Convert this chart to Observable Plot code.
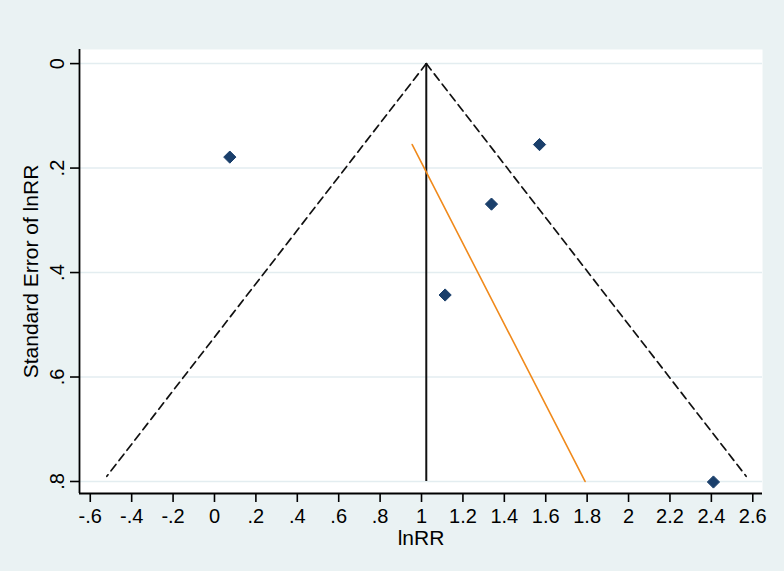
<!DOCTYPE html>
<html>
<head>
<meta charset="utf-8">
<script src="https://cdn.jsdelivr.net/npm/d3@7"></script>
<script src="https://cdn.jsdelivr.net/npm/@observablehq/plot@0.6"></script>
<style>
  html, body { margin: 0; padding: 0; background: #eaf2f3; }
  #chart svg { display: block; }
</style>
</head>
<body>
<div id="chart"></div>
<script>
// ---- data ----
const studyLnRR = [0.074, 1.570, 1.338, 1.114, 2.410];
const studySE   = [0.179, 0.155, 0.269, 0.443, 0.801];

const pooledLnRR = 1.023;                       // vertical line
const funnelLeftX  = [1.023, -0.520];           // dashed left limit
const funnelLeftSE = [0.000, 0.790];
const funnelRightX  = [1.023, 2.568];           // dashed right limit
const funnelRightSE = [0.000, 0.790];
const eggerX  = [0.955, 1.790];                 // orange line
const eggerSE = [0.155, 0.800];

const xTicks = [-0.6, -0.4, -0.2, 0, 0.2, 0.4, 0.6, 0.8, 1, 1.2, 1.4, 1.6, 1.8, 2, 2.2, 2.4, 2.6];
const yTicks = [0, 0.2, 0.4, 0.6, 0.8];
const xTitle = "lnRR";
const yTitle = "Standard Error of lnRR";

// ---- build ----
const points = studyLnRR.map((x, i) => ({x, se: studySE[i]}));
const leftLine = funnelLeftX.map((x, i) => ({x, se: funnelLeftSE[i]}));
const rightLine = funnelRightX.map((x, i) => ({x, se: funnelRightSE[i]}));
const egger = eggerX.map((x, i) => ({x, se: eggerSE[i]}));

const fmt = d => {
  const s = String(+d.toFixed(1));
  return s.replace(/^(-?)0\./, "$1.");
};

const xDom = [-0.652, 2.647];
const yDom = [-0.027, 0.823];
const font = "'Liberation Sans', Arial, sans-serif";

const chart = Plot.plot({
  width: 784,
  height: 571,
  marginLeft: 79,
  marginRight: 22,
  marginTop: 49,
  marginBottom: 78,
  style: {background: "#eaf2f3", fontFamily: font, fontSize: "20px", color: "#000"},
  x: {domain: xDom},
  y: {domain: yDom, reverse: true},
  marks: [
    Plot.frame({fill: "white", stroke: null}),
    Plot.gridY(yTicks, {stroke: "#e3edf0", strokeOpacity: 1, strokeWidth: 1.5}),
    Plot.line(leftLine, {x: "x", y: "se", stroke: "#111", strokeWidth: 1.7, strokeDasharray: "8,5"}),
    Plot.line(rightLine, {x: "x", y: "se", stroke: "#111", strokeWidth: 1.7, strokeDasharray: "8,5"}),
    Plot.ruleX([pooledLnRR], {y1: 0, y2: 0.8, stroke: "#111", strokeWidth: 2}),
    Plot.line(egger, {x: "x", y: "se", stroke: "#f08a1c", strokeWidth: 1.6}),
    Plot.dot(points, {x: "x", y: "se", symbol: "diamond2", r: 5.5, fill: "#1a3f6b", stroke: "#1a3f6b", strokeWidth: 1}),
    Plot.ruleX([xDom[0]], {stroke: "#000", strokeWidth: 1.8}),
    Plot.ruleY([yDom[1]], {stroke: "#000", strokeWidth: 1.8}),
    Plot.axisX(xTicks, {tickSize: 9, tickPadding: 6, tickFormat: fmt, label: null, stroke: "#000", strokeWidth: 1.6, fill: "#000", fontSize: 20}),
    Plot.axisY(yTicks, {tickSize: 9, tickPadding: 7, tickRotate: -90, tickFormat: fmt, label: null, stroke: "#000", strokeWidth: 1.6, fill: "#000", fontSize: 20}),
    Plot.text([xTitle], {frameAnchor: "bottom", textAnchor: "middle", dy: 51, fill: "#000", fontSize: 21}),
    Plot.text([yTitle], {frameAnchor: "left", textAnchor: "middle", dx: -48, rotate: -90, fill: "#000", fontSize: 21})
  ]
});
document.getElementById("chart").appendChild(chart);
</script>
</body>
</html>
